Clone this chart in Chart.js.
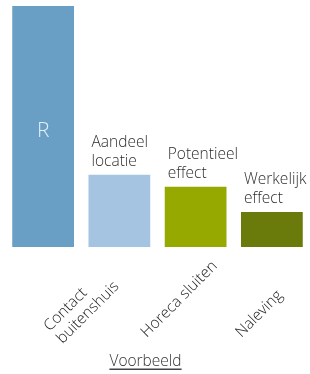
<!DOCTYPE html>
<html>
<head>
<meta charset="utf-8">
<script src="https://cdn.jsdelivr.net/npm/chart.js@4/dist/chart.umd.min.js"></script>
<style>
  html, body { margin: 0; padding: 0; background: #ffffff; }
  #wrap { width: 310px; height: 374px; position: relative; }
</style>
</head>
<body>
<div id="wrap"><canvas id="c"></canvas></div>
<script>
// ---- data ----
const categories = ['R', 'Aandeel locatie', 'Potentieel effect', 'Werkelijk effect'];
const values = [100, 30, 25, 14.5];
const barLabels = [['R'], ['Aandeel', 'locatie'], ['Potentieel', 'effect'], ['Werkelijk', 'effect']];
const axisLabels = [['Contact', 'buitenshuis'], ['Horeca sluiten'], ['Naleving']];
const footerText = 'Voorbeeld';

const barColors = ['#6a9fc5', '#a4c4e2', '#96a900', '#6b7b0b'];
const FONT = '"Segoe UI", "Open Sans", "Noto Sans", sans-serif';

// layout positions of the rotated axis labels (fractional category index)
const axisLabelSlots = [0.17, 1.36, 2.60];

const annotate = {
  id: 'annotate',
  afterDatasetsDraw(chart) {
    const ctx = chart.ctx;
    const meta = chart.getDatasetMeta(0);
    const xs = chart.scales.x;
    const area = chart.chartArea;
    ctx.save();
    // labels above / inside bars
    meta.data.forEach((bar, i) => {
      const left = bar.x - bar.width / 2;
      if (i === 0) {
        ctx.font = '300 21px ' + FONT;
        ctx.fillStyle = '#e4eef6';
        ctx.textAlign = 'center';
        ctx.textBaseline = 'alphabetic';
        ctx.fillText(barLabels[i][0], bar.x, area.top + 131);
      } else {
        ctx.font = '300 15.5px ' + FONT;
        ctx.fillStyle = '#2e2e2e';
        ctx.textAlign = 'left';
        ctx.textBaseline = 'alphabetic';
        const lines = barLabels[i];
        const lh = 19;
        lines.forEach((ln, k) => {
          const y = bar.y - 9 - (lines.length - 1 - k) * lh;
          ctx.fillText(ln, left + 3, y);
        });
      }
    });
    // rotated axis labels
    ctx.font = '300 15.5px ' + FONT;
    ctx.fillStyle = '#1e1e1e';
    ctx.textAlign = 'left';
    ctx.textBaseline = 'alphabetic';
    axisLabels.forEach((lines, j) => {
      const x = xs.getPixelForValue(axisLabelSlots[j]);
      const y = area.bottom + 91;
      ctx.save();
      ctx.translate(x, y);
      ctx.rotate(-Math.PI / 4);
      const lh = 18;
      lines.forEach((ln, k) => {
        ctx.fillText(ln, 0, (k - (lines.length - 1) / 2) * lh);
      });
      ctx.restore();
    });
    // footer
    ctx.font = '300 15.5px ' + FONT;
    ctx.fillStyle = '#333333';
    ctx.textAlign = 'center';
    const fx = (area.left + area.right) / 2 - 12;
    const fy = area.bottom + 119;
    ctx.fillText(footerText, fx, fy);
    const w = ctx.measureText(footerText).width;
    ctx.fillStyle = '#444444';
    ctx.fillRect(fx - w / 2, fy + 2.5, w, 1.5);
    ctx.restore();
  }
};

new Chart(document.getElementById('c'), {
  type: 'bar',
  data: {
    labels: categories,
    datasets: [{
      data: values,
      backgroundColor: barColors,
      borderWidth: 0,
      barPercentage: 0.81,
      categoryPercentage: 1.0
    }]
  },
  options: {
    responsive: true,
    maintainAspectRatio: false,
    animation: false,
    layout: { padding: { top: 6, bottom: 127, left: 5, right: 0 } },
    plugins: { legend: { display: false }, tooltip: { enabled: false } },
    scales: {
      x: { display: false },
      y: { display: false, min: 0, max: 100 }
    }
  },
  plugins: [annotate]
});
</script>
</body>
</html>
